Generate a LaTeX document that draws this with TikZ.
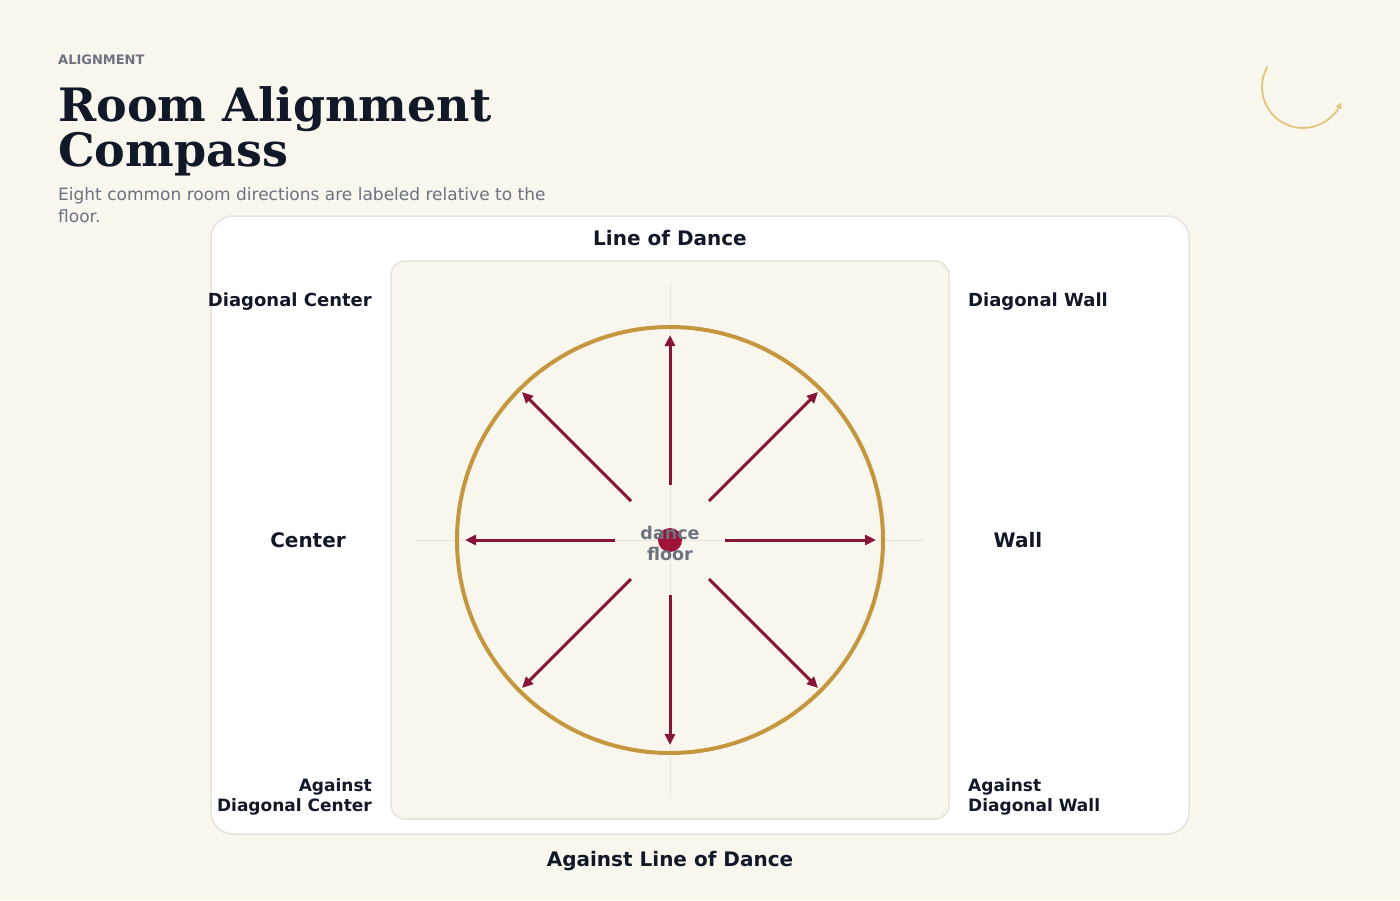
\documentclass[tikz,border=0pt]{standalone}
\usepackage{fontspec}
\setmainfont{DejaVu Sans}
\newfontfamily\titleserif{DejaVu Serif}
\usepackage{tikz}
\usetikzlibrary{arrows.meta, positioning}
\definecolor{cream}{HTML}{F9F6EE}
\definecolor{ink}{HTML}{111827}
\definecolor{slate}{HTML}{6B7280}
\definecolor{rim}{HTML}{E6E3DE}
\definecolor{gold}{HTML}{C4973F}
\definecolor{paleGold}{HTML}{E3C57E}
\definecolor{wine}{HTML}{861538}
\definecolor{hubred}{HTML}{9F1239}
\definecolor{guide}{HTML}{E9E5DC}
\def\lbl{\bfseries\color{ink}}
\tikzstyle{kicker} = [inner sep=0, anchor=base west, font=\fontsize{13}{15}\selectfont\bfseries, text=slate]
\tikzstyle{headline} = [inner sep=0, anchor=base west, font=\fontsize{46}{46}\selectfont\titleserif\bfseries, text=ink]
\tikzstyle{blurb} = [inner sep=0, anchor=base west, font=\fontsize{17}{22}\selectfont, text=slate]
\tikzstyle{card} = [rectangle, rounded corners=22pt, fill=white, draw=rim, line width=1.5pt]
\tikzstyle{floor} = [rectangle, rounded corners=14pt, fill=cream, draw=rim, line width=1.5pt]
\tikzstyle{dir} = [inner sep=0, font=\fontsize{18}{20}\selectfont\lbl]
\tikzstyle{lowdir} = [inner sep=0, font=\fontsize{17}{20}\selectfont\lbl]
\tikzstyle{bigdir} = [inner sep=0, font=\fontsize{20}{22}\selectfont\lbl]
\tikzstyle{spoke} = [-{Triangle[length=11pt,width=10pt]}, wine, line width=3pt]

\begin{document}
\begin{tikzpicture}[x=1pt, y=-1pt]

  \fill[cream] (0,0) rectangle (1400,900);
  \useasboundingbox (0,0) rectangle (1400,900);

  \node (kick) [kicker] at (58,64) {ALIGNMENT};
  \node (title1) [headline] at (58,121) {Room Alignment};
  \node (title2) [headline] at (58,166) {Compass};
  \node (sub1) [blurb] at (58,200) {Eight common room directions are labeled relative to the};
  \node (sub2) [blurb] at (58,222) {floor.};

  % little turn mark
  \draw [paleGold, line width=1.8pt, -{Triangle[length=6pt,width=6pt]}] (1267.5,66.5) arc[start angle=210, end angle=22, radius=41];

  \node (card) [card, minimum width=978pt, minimum height=618pt] at (700,525) {};
  \node (floor) [floor, minimum width=558pt, minimum height=558pt] at (670,540) {};

  \draw [guide, line width=1pt] (670,285) -- (670,797);
  \draw [guide, line width=1pt] (416,540) -- (924,540);

  \node (ring) [circle, draw=gold, line width=4pt, minimum size=426pt] at (670,540) {};

  \coordinate (nIn) at (670,485);   \coordinate (nOut) at (670,335);
  \coordinate (sIn) at (670,595);   \coordinate (sOut) at (670,745);
  \coordinate (eIn) at (725,540);   \coordinate (eOut) at (876,540);
  \coordinate (wIn) at (615,540);   \coordinate (wOut) at (465,540);
  \coordinate (neIn) at (709,501);  \coordinate (neOut) at (818,392);
  \coordinate (nwIn) at (631,501);  \coordinate (nwOut) at (522,392);
  \coordinate (seIn) at (709,579);  \coordinate (seOut) at (818,688);
  \coordinate (swIn) at (631,579);  \coordinate (swOut) at (522,688);

  \draw [spoke] (nIn) -- (nOut);
  \draw [spoke] (sIn) -- (sOut);
  \draw [spoke] (eIn) -- (eOut);
  \draw [spoke] (wIn) -- (wOut);
  \draw [spoke] (neIn) -- (neOut);
  \draw [spoke] (nwIn) -- (nwOut);
  \draw [spoke] (seIn) -- (seOut);
  \draw [spoke] (swIn) -- (swOut);

  \node (hub) [circle, fill=hubred, minimum size=24pt, inner sep=0] at (670,540) {};
  \node (hubtext) [align=center, inner sep=0, font=\fontsize{17.5}{21}\selectfont\bfseries, text=slate] at (670,543) {dance\\floor};

  \node (lod) [bigdir] at (670,238) {Line of Dance};
  \node (dc) [dir, anchor=east] at (372,302) {Diagonal Center};
  \node (dw) [dir, anchor=west] at (968,302) {Diagonal Wall};
  \node (ctr) [bigdir] at (308,540) {Center};
  \node (wall) [bigdir] at (1018,540) {Wall};
  \node (adc) [lowdir, anchor=east, align=right] at (372,797) {Against\\Diagonal Center};
  \node (adw) [lowdir, anchor=west, align=left] at (968,797) {Against\\Diagonal Wall};
  \node (alod) [bigdir] at (670,861) {Against Line of Dance};

\end{tikzpicture}
\end{document}
